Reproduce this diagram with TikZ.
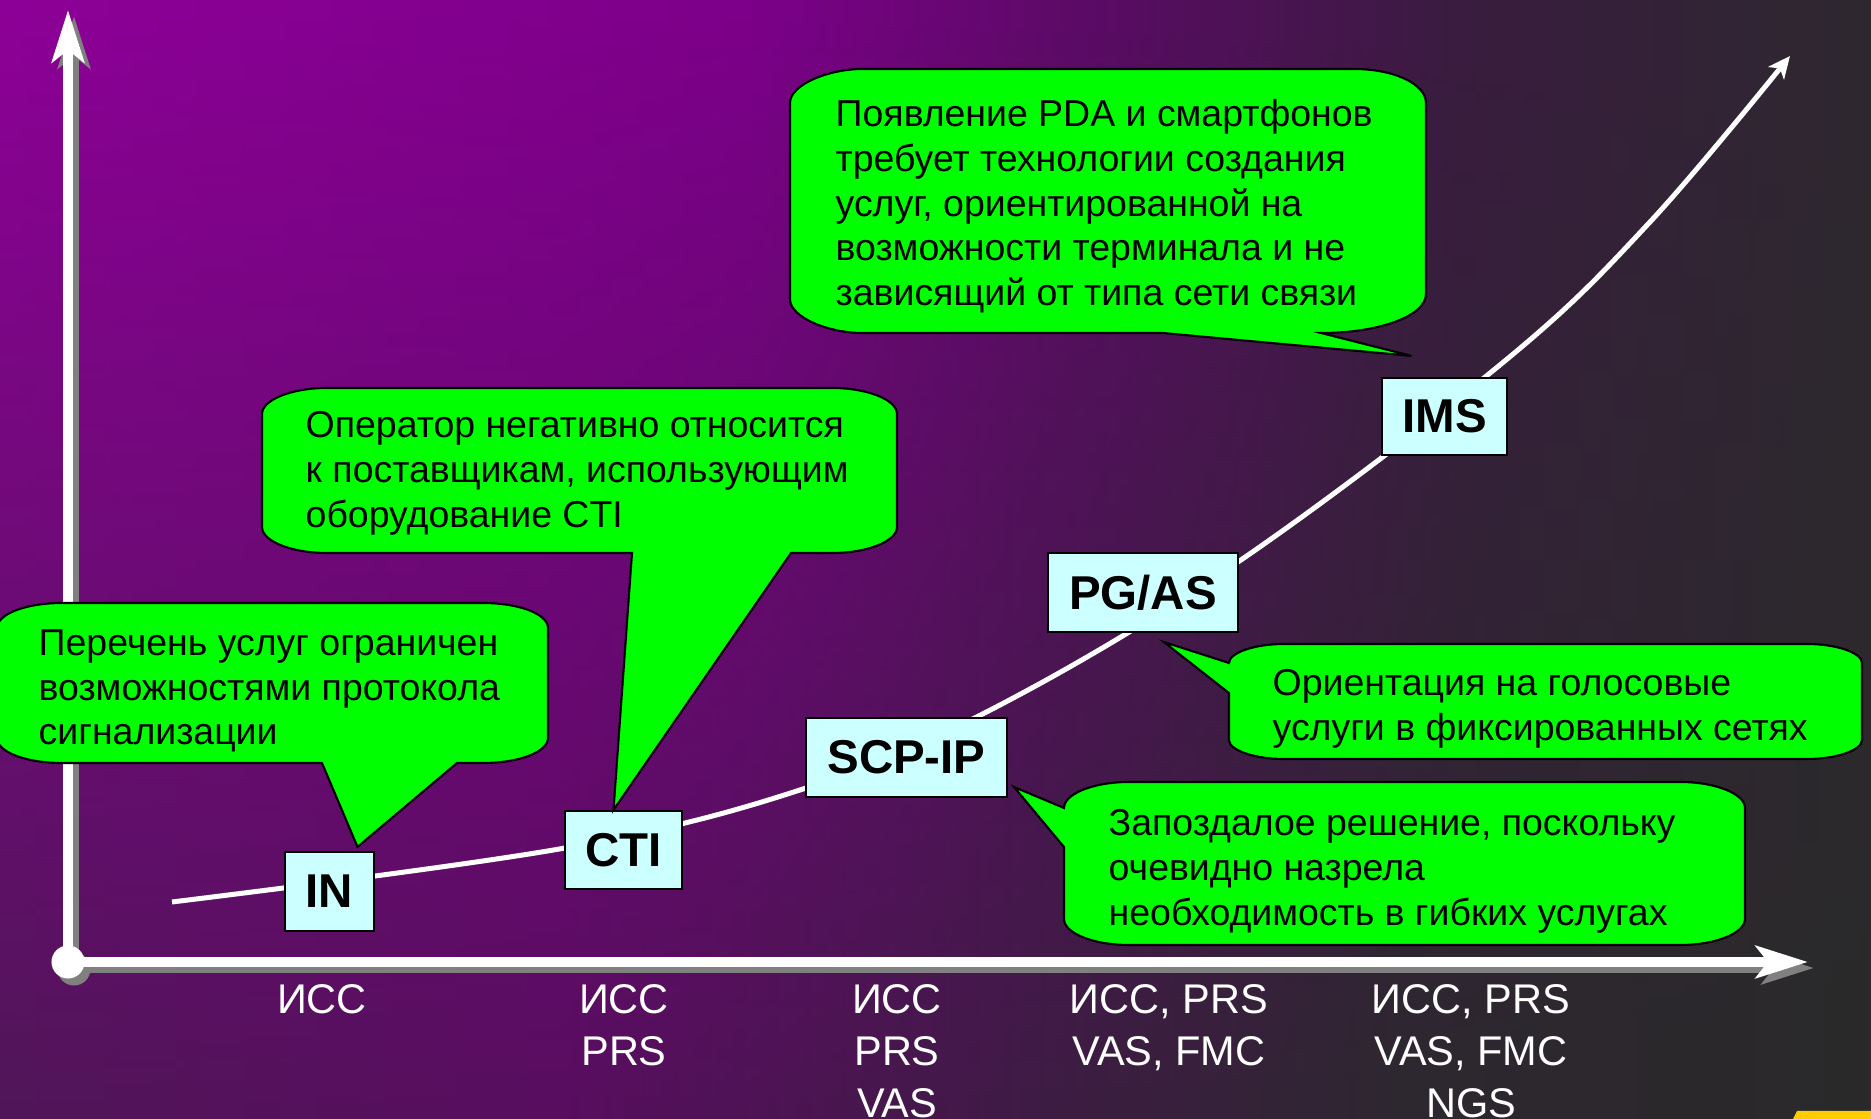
\documentclass[tikz,border=0pt]{standalone}
\usepackage{fontspec}
\setmainfont{Liberation Sans}
\usetikzlibrary{arrows.meta,calc,fadings}
\newcommand{\px}{0.01cm}

\definecolor{bgTa}{RGB}{142,0,152}
\definecolor{bgTb}{RGB}{125,0,138}
\definecolor{bgTc}{RGB}{88,12,98}
\definecolor{bgTd}{RGB}{58,28,64}
\definecolor{bgTe}{RGB}{46,40,48}
\definecolor{bgBa}{RGB}{80,22,88}
\definecolor{bgBb}{RGB}{88,14,95}
\definecolor{bgBc}{RGB}{62,28,68}
\definecolor{bgBd}{RGB}{45,40,47}
\definecolor{bgBe}{RGB}{42,42,42}
\definecolor{notegreen}{RGB}{0,255,0}
\definecolor{boxcyan}{RGB}{204,255,255}
\definecolor{shadowgray}{RGB}{128,128,128}
\definecolor{logoyellow}{RGB}{255,204,0}

\pgfdeclarehorizontalshading{bgtop}{100bp}{color(0bp)=(bgTa); color(25bp)=(bgTa); color(45bp)=(bgTb); color(55bp)=(bgTc); color(64bp)=(bgTd); color(75bp)=(bgTe); color(100bp)=(bgTe)}
\pgfdeclarehorizontalshading{bgbottom}{100bp}{color(0bp)=(bgBa); color(25bp)=(bgBa); color(40bp)=(bgBb); color(52.5bp)=(bgBc); color(62.5bp)=(bgBd); color(75bp)=(bgBe); color(100bp)=(bgBe)}
\tikzfading[name=topfade, top color=transparent!0, bottom color=transparent!100]

\begin{document}
\begin{tikzpicture}[x=\px, y=-\px,
    box/.style={draw, line width=0.6pt, fill=boxcyan, inner sep=0pt, font=\fontsize{13.5}{16}\selectfont\bfseries},
    bubble/.style={draw, line width=0.6pt, fill=notegreen},
    note/.style={anchor=north west, inner sep=0pt, align=left, font=\fontsize{10.65}{12.7}\selectfont},
    era/.style={anchor=north, inner sep=0pt, align=center, text=white, font=\fontsize{11.8}{14.8}\selectfont},
    shaft/.style={line width=0.1cm, -{Stealth[length=0.52cm, width=0.32cm, inset=0.12cm]}}]

    % background
    \useasboundingbox (0,0) rectangle (1871,1119);
    \shade[shading=bgbottom] (0,0) rectangle (1871,1119);
    \shade[shading=bgtop, path fading=topfade] (0,0) rectangle (1871,1119);
    \fill[logoyellow] (1797,1111) -- (1871,1111) -- (1871,1119) -- (1793,1119) -- cycle;

    % axes with shadow
    \coordinate (origin) at (68,962);
    \coordinate (ytip) at (68,10);
    \coordinate (xtip) at (1808,962);
    \draw[shaft, shadowgray] ([shift={(6,6)}]origin) -- ([shift={(6,6)}]ytip);
    \draw[shaft, shadowgray] ([shift={(6,6)}]origin) -- ([shift={(6,6)}]xtip);
    \fill[shadowgray] ([shift={(6,7)}]origin) circle[radius=0.165cm];
    \draw[shaft, white] (origin) -- (ytip);
    \draw[shaft, white] (origin) -- (xtip);
    \fill[white] (origin) circle[radius=0.165cm];

    % growth curve
    \draw[white, line width=0.05cm, -{Stealth[length=0.22cm, width=0.2cm, inset=0.06cm]}]
        plot[smooth, tension=0.6] coordinates {(172,902) (565,848) (806,788) (1000,705) (1238,562) (1506,360) (1650,222) (1790,56)};

    % platforms
    \node[box, minimum width=0.89cm, minimum height=0.79cm] (IN) at (329.5,891.5) {IN};
    \node[box, minimum width=1.17cm, minimum height=0.78cm] (CTI) at (623.5,850) {CTI};
    \node[box, minimum width=2.01cm, minimum height=0.79cm] (SCP) at (906.5,757.5) {SCP-IP};
    \node[box, minimum width=1.90cm, minimum height=0.79cm] (PGAS) at (1143,592.5) {PG/AS};
    \node[box, minimum width=1.25cm, minimum height=0.77cm] (IMS) at (1444.5,416.5) {IMS};

    % callouts
    \draw[bubble] (62,603) -- (483,603) .. controls (519,603) and (548,614) .. (548,628)
        -- (548,738) .. controls (548,752) and (519,763) .. (483,763) -- (457,763)
        -- ($(IN.north)+(28,-4)$) -- (322,763) -- (62,763)
        .. controls (26,763) and (-3,752) .. (-3,738) -- (-3,628)
        .. controls (-3,614) and (26,603) .. (62,603) -- cycle;
    \node[note] (noteIN) at (38,629) {Перечень услуг ограничен\\возможностями протокола\\сигнализации};

    \draw[bubble] (327,388) -- (832,388) .. controls (868,388) and (897,400) .. (897,414)
        -- (897,527) .. controls (897,541) and (868,553) .. (832,553) -- (791,553)
        -- ($(CTI.north)+(-10,0)$) -- (632,553) -- (327,553)
        .. controls (291,553) and (262,541) .. (262,527) -- (262,414)
        .. controls (262,400) and (291,388) .. (327,388) -- cycle;
    \node[note] (noteCTI) at (305,411) {Оператор негативно относится\\к поставщикам, использующим\\оборудование CTI};

    \draw[bubble] (862,69) -- (1354,69) .. controls (1394,69) and (1426,84) .. (1426,103)
        -- (1426,294) .. controls (1426,316) and (1379,333) .. (1321,333)
        -- ($(IMS.north)+(-33,-21)$) -- (1163,333) -- (862,333)
        .. controls (830,333) and (790,318) .. (790,299) -- (790,103)
        .. controls (790,84) and (830,69) .. (862,69) -- cycle;
    \node[note] (noteIMS) at (835,99) {Появление PDA и смартфонов\\требует технологии создания\\услуг, ориентированной на\\возможности терминала и не\\зависящий от типа сети связи};

    \draw[bubble] (1284,644) -- (1807,644) .. controls (1837,644) and (1862,653) .. (1862,663)
        -- (1862,740) .. controls (1862,750) and (1837,759) .. (1807,759) -- (1284,759)
        .. controls (1254,759) and (1229,750) .. (1229,740) -- (1229,693)
        -- ($(PGAS.south)+(21,9)$) -- (1229,663)
        .. controls (1229,653) and (1254,644) .. (1284,644) -- cycle;
    \node[note] (notePGAS) at (1272,669) {Ориентация на голосовые\\услуги в фиксированных сетях};

    \draw[bubble] (1129,782) -- (1680,782) .. controls (1716,782) and (1745,794) .. (1745,808)
        -- (1745,919) .. controls (1745,933) and (1716,945) .. (1680,945) -- (1129,945)
        .. controls (1093,945) and (1064,933) .. (1064,919) -- (1064,847)
        -- ($(SCP.south east)+(6,-11)$) -- (1064,808)
        .. controls (1064,794) and (1093,782) .. (1129,782) -- cycle;
    \node[note] (noteSCP) at (1108,809) {Запоздалое решение, поскольку\\очевидно назрела\\необходимость в гибких услугах};

    % services under the axis
    \node[era] (era-1) at (322,984) {ИСС};
    \node[era] (era-2) at (624,984) {ИСС\\PRS};
    \node[era] (era-3) at (897,984) {ИСС\\PRS\\VAS};
    \node[era] (era-4) at (1169,984) {ИСС, PRS\\VAS, FMC};
    \node[era] (era-5) at (1471,984) {ИСС, PRS\\VAS, FMC\\NGS};

\end{tikzpicture}
\end{document}
